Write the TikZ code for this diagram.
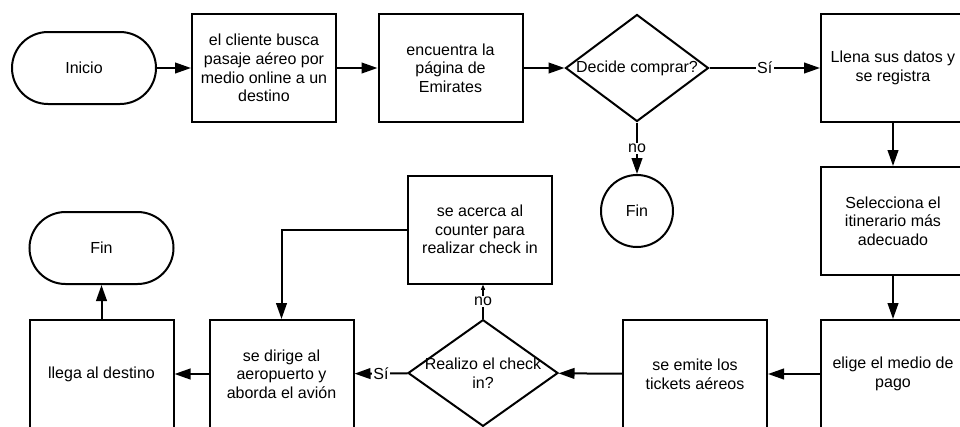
\documentclass[tikz,border=0pt]{standalone}
\usepackage{fontspec}
\setmainfont{Liberation Sans}
\usetikzlibrary{shapes.geometric,arrows.meta}
\begin{document}
\begin{tikzpicture}[x=0.75pt,y=-0.75pt,
  font=\fontsize{12}{14}\selectfont,
  line width=1.5pt,
  >={Triangle[length=12pt,width=8pt]},
  box/.style={draw,rectangle,minimum width=108pt,minimum height=81pt,align=center,inner sep=0pt},
  term/.style={draw,rectangle,rounded corners=27pt,minimum width=108pt,minimum height=54pt,align=center},
  dec/.style={draw,diamond,inner sep=0pt},
  lbl/.style={fill=white,inner sep=1pt},
  txt/.style={align=center,inner sep=0pt}
]
\clip (0,0) rectangle (960,426);
\fill[white] (0,0) rectangle (960,426);
\node[term] (inicio) at (84,68) {Inicio};
\node[box] (b1) at (264,68) {el cliente busca\\pasaje aéreo por\\medio online a un\\destino};
\node[box] (b2) at (450.5,68) {encuentra la\\página de\\Emirates};
\node[dec,minimum width=107.25pt,minimum height=80.25pt] (d1) at (637,68) {};
\node[txt] (d1t) at (d1.center) {Decide comprar?};
\node[box] (llena) at (893,68) {Llena sus datos y\\se registra};
\node[draw,circle,minimum size=54pt,inner sep=0pt] (fin1) at (637,211) {Fin};
\node[box] (sel) at (893,221) {Selecciona el\\itinerario más\\adecuado};
\node[box] (elige) at (893,374) {elige el medio de\\pago};
\node[box] (emite) at (695,374) {se emite los\\tickets aéreos};
\node[dec,minimum width=112.5pt,minimum height=80pt] (d2) at (483,373) {};
\node[txt] (d2t) at (d2.center) {Realizo el check\\in?};
\node[box] (acerca) at (480,229.5) {se acerca al\\counter para\\realizar check in};
\node[box] (dirige) at (281.5,374) {se dirige al\\aeropuerto y\\aborda el avión};
\node[box] (llega) at (101.5,374) {llega al destino};
\node[term] (fin2) at (101.5,248) {Fin};

\draw[->] (inicio) -- (b1);
\draw[->] (b1) -- (b2);
\draw[->] (b2) -- (d1);
\draw[->] (d1) -- node[lbl]{Sí} (llena);
\draw[->] (d1) -- node[lbl]{no} (fin1);
\draw[->] (llena) -- (sel);
\draw[->] (sel) -- (elige);
\draw[->] (elige) -- (emite);
\draw[->] (emite) -- (d2);
\draw[->] (d2) -- node[lbl]{Sí} (dirige);
\draw[-{Triangle[length=4pt,width=3pt]}] (d2.north) -- node[lbl]{no} (d2.north |- acerca.south);
\draw[->] (acerca.west) -| (dirige.north);
\draw[->] (dirige) -- (llega);
\draw[->] (llega) -- (fin2);
\end{tikzpicture}
\end{document}
